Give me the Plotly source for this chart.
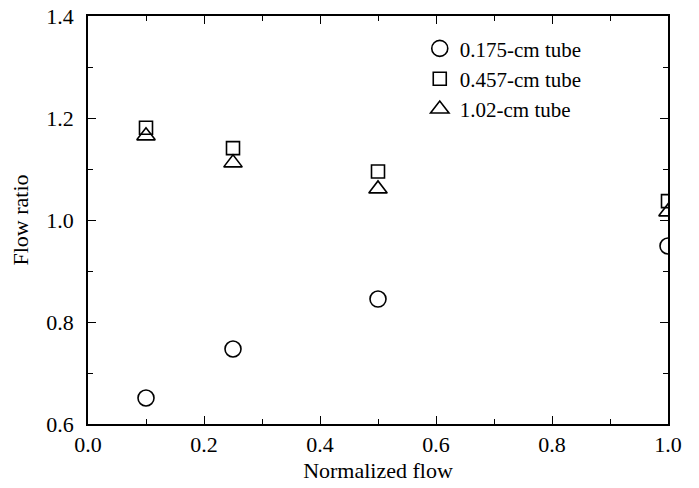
import plotly.graph_objects as go

flow = [0.1, 0.25, 0.5, 1.0]
tube_0175 = [0.651, 0.747, 0.845, 0.949]
tube_0457 = [1.181, 1.141, 1.095, 1.037]
tube_102 = [1.165, 1.112, 1.061, 1.016]
names = ["0.175-cm tube", "0.457-cm tube", "1.02-cm tube"]

font = "Liberation Serif"
fig = go.Figure()
for ys, nm, sym, sz in [(tube_0175, names[0], "circle-open", 16),
                         (tube_0457, names[1], "square-open", 13),
                         (tube_102, names[2], "triangle-up-open", 16)]:
    fig.add_trace(go.Scatter(x=flow, y=ys, mode="markers", name=nm,
                             marker=dict(symbol=sym, size=sz, color="black",
                                         line=dict(width=1.6, color="black"))))

axis_common = dict(showline=True, linecolor="black", linewidth=1.5, mirror="ticks",
                   ticks="inside", ticklen=8, tickwidth=1.2, tickcolor="black",
                   showgrid=False, zeroline=False, ticklabeloverflow="allow", automargin=False,
                   tickfont=dict(family=font, size=22, color="black"),
                   minor=dict(ticks="inside", ticklen=5, tickwidth=1.2, tickcolor="black", dtick=0.1))
fig.update_xaxes(range=[0, 1], dtick=0.2, tickformat=".1f",
                 title=dict(text="Normalized flow", font=dict(family=font, size=22, color="black"), standoff=6),
                 **axis_common)
fig.update_yaxes(range=[0.6, 1.4], dtick=0.2, tickformat=".1f", ticklabelstandoff=8,
                 title=dict(text="Flow ratio", font=dict(family=font, size=22, color="black"), standoff=12),
                 **axis_common)
fig.update_layout(width=699, height=488, margin=dict(l=88, r=31, t=16, b=64, autoexpand=False),
                  font=dict(family=font, color="black"),
                  plot_bgcolor="white", paper_bgcolor="white",
                  legend=dict(x=0.572, y=0.97, xanchor="left", yanchor="top",
                              font=dict(family=font, size=21, color="black"),
                              bgcolor="rgba(0,0,0,0)", itemwidth=30, tracegroupgap=0))
fig.write_html("out.html", config={"displayModeBar": False},
               post_script="document.body.style.margin='0';")
